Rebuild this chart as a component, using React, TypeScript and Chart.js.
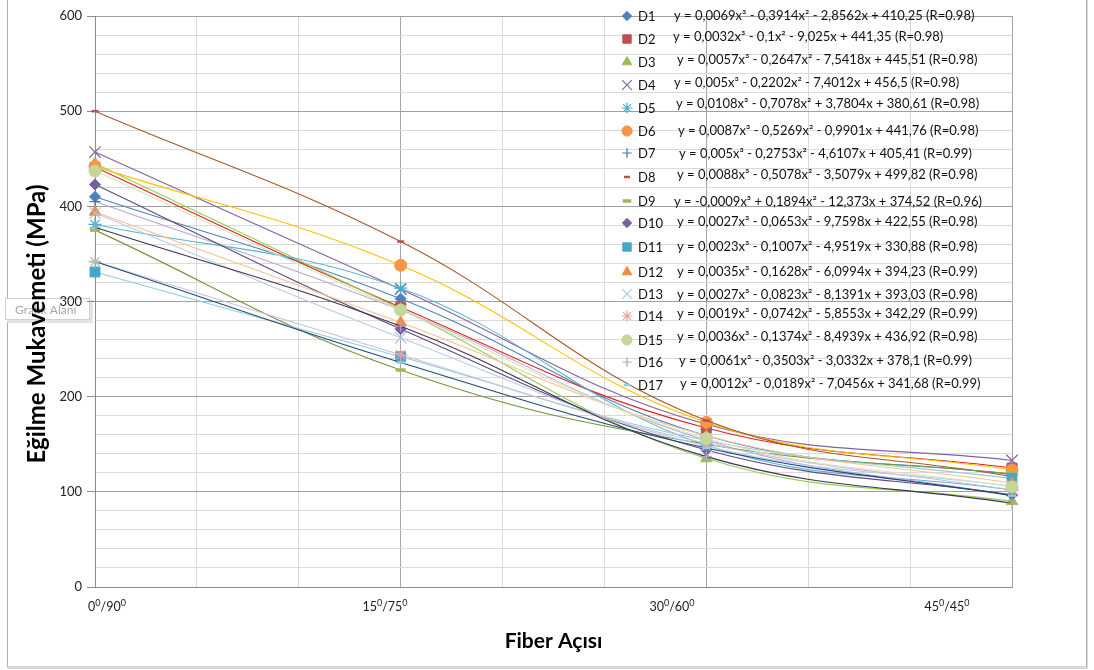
import React, { useEffect, useRef } from 'react';
import { Chart, registerables } from 'chart.js';
import { drawPoint } from 'chart.js/helpers';

Chart.register(...registerables);

// ---------- DATA ----------
const angles = [0, 15, 30, 45];
const xTickLabels = ['0⁰/90⁰', '15⁰/75⁰', '30⁰/60⁰', '45⁰/45⁰'];
const yTickValues = [0, 100, 200, 300, 400, 500, 600];

const seriesNames = ['D1', 'D2', 'D3', 'D4', 'D5', 'D6', 'D7', 'D8', 'D9', 'D10', 'D11', 'D12', 'D13', 'D14', 'D15', 'D16', 'D17'];

const D1 = [410, 303, 159, 118];
const D2 = [441, 294, 167, 125];
const D3 = [445, 292, 135, 90];
const D4 = [457, 313, 171, 133];
const D5 = [381, 314, 149, 102];
const D6 = [442, 338, 173, 123];
const D7 = [405, 291, 154, 96];
const D8 = [500, 363, 175, 116];
const D9 = [375, 228, 150, 119];
const D10 = [423, 271, 144, 97];
const D11 = [331, 242, 154, 114];
const D12 = [394, 278, 159, 109];
const D13 = [393, 262, 148, 106];
const D14 = [342, 244, 151, 102];
const D15 = [437, 291, 156, 105];
const D16 = [378, 274, 137, 88];
const D17 = [342, 236, 146, 96];
const seriesValues = [D1, D2, D3, D4, D5, D6, D7, D8, D9, D10, D11, D12, D13, D14, D15, D16, D17];

const equations = [
  'y = 0,0069x³ - 0,3914x² - 2,8562x + 410,25 (R=0.98)',
  'y = 0,0032x³ - 0,1x² - 9,025x + 441,35 (R=0.98)',
  'y = 0,0057x³ - 0,2647x² - 7,5418x + 445,51 (R=0.98)',
  'y = 0,005x³ - 0,2202x² - 7,4012x + 456,5 (R=0.98)',
  'y = 0,0108x³ - 0,7078x² + 3,7804x + 380,61 (R=0.98)',
  'y = 0,0087x³ - 0,5269x² - 0,9901x + 441,76 (R=0.98)',
  'y = 0,005x³ - 0,2753x² - 4,6107x + 405,41 (R=0.99)',
  'y = 0,0088x³ - 0,5078x² - 3,5079x + 499,82 (R=0.98)',
  'y = -0,0009x³ + 0,1894x² - 12,373x + 374,52 (R=0.96)',
  'y = 0,0027x³ - 0,0653x² - 9,7598x + 422,55 (R=0.98)',
  'y = 0,0023x³ - 0,1007x² - 4,9519x + 330,88 (R=0.98)',
  'y = 0,0035x³ - 0,1628x² - 6,0994x + 394,23 (R=0.99)',
  'y = 0,0027x³ - 0,0823x² - 8,1391x + 393,03 (R=0.98)',
  'y = 0,0019x³ - 0,0742x² - 5,8553x + 342,29 (R=0.99)',
  'y = 0,0036x³ - 0,1374x² - 8,4939x + 436,92 (R=0.98)',
  'y = 0,0061x³ - 0,3503x² - 3,0332x + 378,1 (R=0.99)',
  'y = 0,0012x³ - 0,0189x² - 7,0456x + 341,68 (R=0.99)',
];

const xTitle = 'Fiber Açısı';
const yTitle = 'Eğilme Mukavemeti (MPa)';
const hoverTip = 'Grafik Alanı';

// ---------- STYLES ----------
const markerColors = ['#4F81BD', '#C0504D', '#9BBB59', '#8064A2', '#4BACC6', '#F79646', '#4373B3', '#C0504D', '#9BBB59', '#7A5FA0', '#44A9C4', '#F38B3B', '#A9C4E4', '#E2A5A3', '#C4D79B', '#B3A2C7', '#93CDDD'];
const lineColors = ['#4F81BD', '#E0231E', '#92D050', '#8064A2', '#5FB4CD', '#FFC000', '#B7A8D0', '#A8582A', '#77933C', '#5F497A', '#93CDDD', '#FAC090', '#B9CDE5', '#CCC0DA', '#D7E4BD', '#403152', '#1F497D'];
const pointStyles = ['rectRot', 'rect', 'triangle', 'crossRot', 'star', 'circle', 'cross', 'line', 'line', 'rectRot', 'rect', 'triangle', 'crossRot', 'star', 'circle', 'cross', 'line'];
const pointRadii = [5.5, 7, 6.5, 8, 6.5, 6, 5.5, 3.5, 5, 5.5, 7, 6.5, 8, 6.5, 6, 5.5, 4];
const pointBorderWidths = [1, 1, 1, 1.2, 1.2, 1, 1.2, 2.5, 3.5, 1, 1, 1, 1.2, 1.2, 1, 1.2, 2.5];

// legend layout (pixels)
const legendMarkerX = 627;
const legendLabelX = 638;
const legendRowY = [16, 39, 62, 85, 108, 131, 153, 177, 201, 223, 247, 272, 294, 316, 340, 362, 385];
const eqX = [674, 673, 677, 674, 676, 678, 679, 677, 674, 677, 677, 677, 677, 677, 677, 679, 680];
const eqY = [15, 36, 59, 82, 103, 130, 153, 174, 201, 221, 246, 271, 294, 313, 336, 360, 383];
const xLabelCenters = [107, 385, 672, 947];

const W = 1094;
const H = 670;
const FONT = 'Lato, "Open Sans", sans-serif';

function drawSupText(ctx: CanvasRenderingContext2D, text: string, cx: number, cy: number, size: number) {
  const parts: { t: string; sup: boolean }[] = [];
  let buf = '';
  for (const ch of text) {
    if (ch === '⁰') {
      if (buf) parts.push({ t: buf, sup: false });
      buf = '';
      parts.push({ t: '0', sup: true });
    } else buf += ch;
  }
  if (buf) parts.push({ t: buf, sup: false });
  const supSize = Math.round(size * 0.72);
  let total = 0;
  for (const p of parts) {
    ctx.font = `${p.sup ? supSize : size}px ${FONT}`;
    total += ctx.measureText(p.t).width;
  }
  let x = cx - total / 2;
  ctx.textAlign = 'left';
  ctx.textBaseline = 'alphabetic';
  for (const p of parts) {
    ctx.font = `${p.sup ? supSize : size}px ${FONT}`;
    ctx.fillText(p.t, x, p.sup ? cy - size * 0.38 : cy);
    x += ctx.measureText(p.t).width;
  }
}

const decorPlugin = {
  id: 'decor',
  beforeDraw(chart: any) {
    const ctx = chart.ctx as CanvasRenderingContext2D;
    ctx.save();
    ctx.fillStyle = '#ffffff';
    ctx.fillRect(0, 0, W, H);
    // outer chart border
    ctx.strokeStyle = '#b0b0b0';
    ctx.lineWidth = 1;
    ctx.strokeRect(7.5, -2, 1079, 669);
    ctx.strokeStyle = '#d8d8d8';
    ctx.beginPath();
    ctx.moveTo(8, 668.5);
    ctx.lineTo(1087.5, 668.5);
    ctx.lineTo(1087.5, 0);
    ctx.stroke();
    // hover tip box
    ctx.fillStyle = '#e4e4e4';
    ctx.fillRect(7, 300, 86, 23);
    ctx.fillStyle = '#ffffff';
    ctx.fillRect(5, 298, 85, 22);
    ctx.strokeStyle = '#d0d0d0';
    ctx.strokeRect(5.5, 298.5, 84, 21);
    ctx.fillStyle = '#a8a8a8';
    ctx.font = `12px ${FONT}`;
    ctx.textAlign = 'left';
    ctx.textBaseline = 'middle';
    ctx.fillText(hoverTip, 15, 310);
    ctx.restore();
  },
  afterDraw(chart: any) {
    const ctx = chart.ctx as CanvasRenderingContext2D;
    ctx.save();
    // x tick labels
    ctx.fillStyle = '#1a1a1a';
    xTickLabels.forEach((lab, i) => drawSupText(ctx, lab, xLabelCenters[i], 611, 12.5));
    // y title
    ctx.save();
    ctx.translate(37, 324);
    ctx.rotate(-Math.PI / 2);
    ctx.font = `bold 24px ${FONT}`;
    ctx.fillStyle = '#000';
    ctx.textAlign = 'center';
    ctx.textBaseline = 'middle';
    ctx.fillText(yTitle, 0, 0);
    ctx.restore();
    // legend
    seriesNames.forEach((name, i) => {
      ctx.fillStyle = markerColors[i];
      ctx.strokeStyle = markerColors[i];
      ctx.lineWidth = pointBorderWidths[i];
      drawPoint(ctx, { pointStyle: pointStyles[i] as any, rotation: 0, radius: pointRadii[i] * 0.85, borderWidth: pointBorderWidths[i] }, legendMarkerX, legendRowY[i]);
      ctx.fillStyle = '#111';
      ctx.font = `13px ${FONT}`;
      ctx.textAlign = 'left';
      ctx.textBaseline = 'middle';
      ctx.fillText(name, legendLabelX, legendRowY[i] + 1);
      ctx.font = `13px ${FONT}`;
      ctx.fillText(equations[i], eqX[i], eqY[i] + 1);
    });
    ctx.restore();
  },
};

export default function App() {
  const canvasRef = useRef<HTMLCanvasElement | null>(null);

  useEffect(() => {
    document.body.style.margin = '0';
    const canvas = canvasRef.current;
    if (!canvas) return;

    const datasets = seriesNames.map((name, i) => ({
      label: name,
      data: angles.map((a, j) => ({ x: a, y: seriesValues[i][j] })),
      borderColor: lineColors[i],
      borderWidth: 1.1,
      backgroundColor: markerColors[i],
      pointStyle: pointStyles[i],
      pointRadius: pointRadii[i],
      pointBackgroundColor: markerColors[i],
      pointBorderColor: markerColors[i],
      pointBorderWidth: pointBorderWidths[i],
      tension: 0.4,
      cubicInterpolationMode: 'default',
      clip: false,
      order: -i,
      fill: false,
    }));

    const chart = new Chart(canvas, {
      type: 'line',
      data: { datasets } as any,
      options: {
        responsive: false,
        animation: false,
        layout: { padding: { top: 16, right: 82, left: 0, bottom: 0 } },
        plugins: {
          legend: { display: false },
          tooltip: { enabled: false },
        },
        scales: {
          x: {
            type: 'linear',
            min: 0,
            max: 45,
            ticks: { stepSize: 5, display: false },
            grid: {
              color: (c: any) => (c.tick && c.tick.value % 15 === 0 ? '#a6a6a6' : '#d9d9d9'),
              drawTicks: false,
              lineWidth: 1,
            },
            border: { color: '#8c8c8c' },
            title: {
              display: true,
              text: xTitle,
              color: '#000',
              font: { family: FONT, size: 21, weight: 'bold' },
              padding: { top: 0, bottom: 16 },
            },
            afterFit: (s: any) => {
              s.height = 83;
            },
          } as any,
          y: {
            type: 'linear',
            min: 0,
            max: 600,
            afterBuildTicks: (s: any) => {
              const t: any[] = [];
              for (let v = 0; v <= 600; v += 20) t.push({ value: v });
              s.ticks = t;
            },
            ticks: {
              autoSkip: false,
              padding: 5,
              color: '#222',
              font: { family: FONT, size: 13 },
              callback: (v: any) => (yTickValues.includes(Math.round(v)) ? String(Math.round(v)) : ''),
            },
            grid: {
              color: (c: any) => (c.tick && Math.round(c.tick.value) % 100 === 0 ? '#a0a0a0' : '#dadada'),
              tickColor: (c: any) => (c.tick && Math.round(c.tick.value) % 100 === 0 ? '#8c8c8c' : 'rgba(0,0,0,0)'),
              tickLength: 8,
              lineWidth: 1,
            },
            border: { color: '#8c8c8c' },
            afterFit: (s: any) => {
              s.width = 95;
            },
          } as any,
        },
      },
      plugins: [decorPlugin],
    });

    return () => chart.destroy();
  }, []);

  return (
    <div style={{ width: W, height: H }}>
      <canvas ref={canvasRef} width={W} height={H} style={{ display: 'block', width: W, height: H }} />
    </div>
  );
}
